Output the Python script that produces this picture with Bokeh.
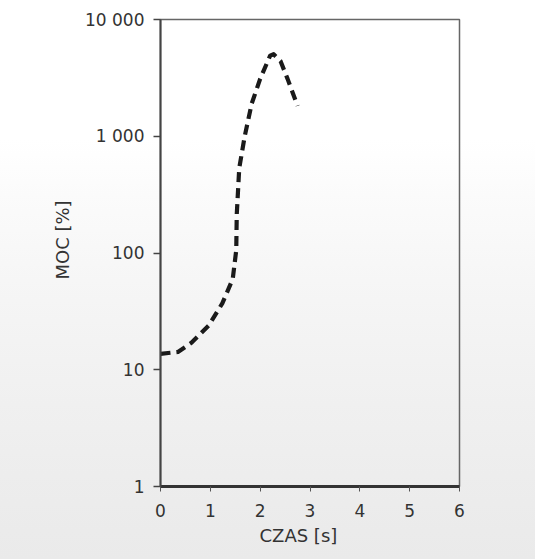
from bokeh.plotting import figure
from bokeh.models import (FixedTicker, CustomJSTickFormatter, Title, InlineStyleSheet,
                          ColumnDataSource, Range1d)
from bokeh.embed import file_html
from bokeh.resources import INLINE

# data
czas = [0.0, 0.35, 0.62, 0.97, 1.24, 1.45, 1.52, 1.53, 1.58, 1.69, 1.83, 2.0, 2.2, 2.27, 2.41, 2.55, 2.75]
moc = [13.7, 14.2, 17, 24, 37, 60, 106, 213, 533, 1000, 1900, 3100, 4900, 5040, 4390, 3100, 1820]
x_ticks = [0, 1, 2, 3, 4, 5, 6]
y_ticks = [1, 10, 100, 1000, 10000]
x_title = "CZAS [s]"
y_title = "MOC [%]"

FONT = "DejaVu Sans"
TXT = "#333333"

p = figure(width=535, height=559, y_axis_type="log",
           x_range=Range1d(0, 6), y_range=Range1d(1, 10000),
           output_backend="svg", toolbar_location=None,
           min_border_left=160, min_border_right=76,
           min_border_top=19, min_border_bottom=73)

p.stylesheets = [InlineStyleSheet(css=":host{background:linear-gradient(to bottom,#ffffff 0%,#ffffff 25%,#fbfbfb 35%,#f6f6f6 50%,#f1f1f1 68%,#ededed 85%,#eaeaea 100%);}")]
p.background_fill_alpha = 0
p.border_fill_alpha = 0
p.outline_line_color = "#666666"
p.outline_line_width = 1.5
p.grid.visible = False

src = ColumnDataSource(dict(x=czas, y=moc))
p.line("x", "y", source=src, line_color="#1a1a1a", line_width=4.2,
       line_dash="10 6", line_cap="butt", line_join="round")

# x axis
xa = p.xaxis[0]
xa.ticker = FixedTicker(ticks=x_ticks)
xa.axis_line_color = "#333333"
xa.axis_line_width = 3
xa.major_tick_line_color = "#555555"
xa.major_tick_out = 5
xa.major_tick_in = 0
xa.minor_tick_line_color = None
xa.major_label_text_font = FONT
xa.major_label_text_font_size = "17px"
xa.major_label_text_color = TXT
xa.major_label_standoff = 12

# y axis
ya = p.yaxis[0]
ya.ticker = FixedTicker(ticks=y_ticks)
ya.formatter = CustomJSTickFormatter(code="""
const v = Math.round(tick);
return v.toString().replace(/\\B(?=(\\d{3})+(?!\\d))/g, ' ');
""")
ya.axis_line_color = "#444444"
ya.axis_line_width = 2
ya.major_tick_line_color = "#444444"
ya.major_tick_line_width = 1.5
ya.major_tick_out = 7
ya.major_tick_in = 0
ya.minor_tick_line_color = None
ya.major_label_text_font = FONT
ya.major_label_text_font_size = "17px"
ya.major_label_text_color = TXT
ya.major_label_standoff = 9

# axis titles as side-panel titles (allow pixel offsets like the reference)
p.add_layout(Title(text=x_title, align="left", offset=99, standoff=7,
                   text_font=FONT, text_font_size="18px", text_color=TXT,
                   text_font_style="normal"), "below")
p.add_layout(Title(text=y_title, align="left", offset=207, standoff=19,
                   text_font=FONT, text_font_size="18px", text_color=TXT,
                   text_font_style="normal"), "left")

open("out.html", "w").write(file_html(p, INLINE))
